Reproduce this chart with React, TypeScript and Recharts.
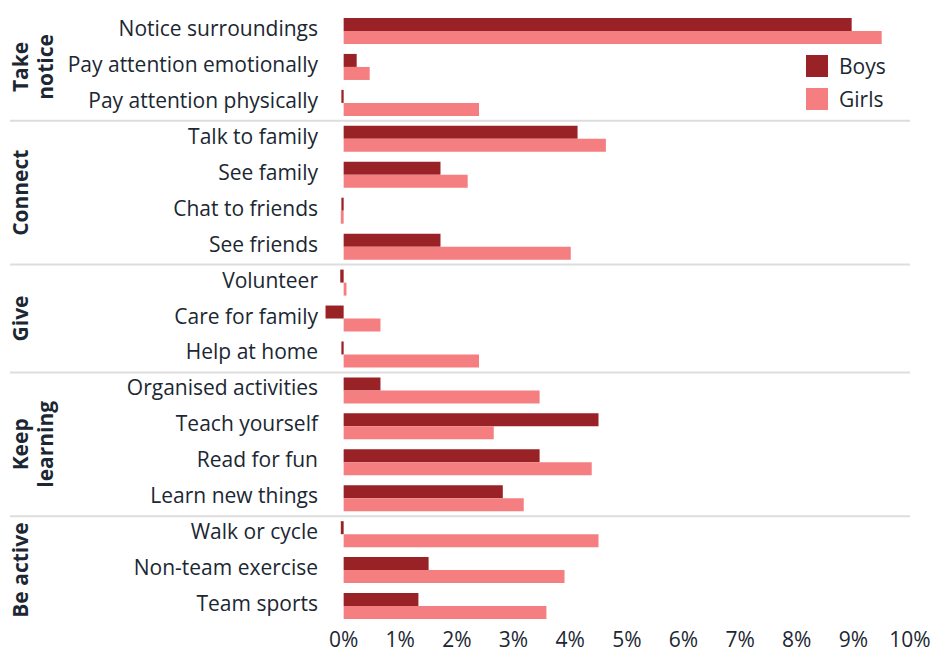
import React from "react";
import { BarChart, Bar, XAxis, YAxis, Legend } from "recharts";

const categories = [
  "Notice surroundings",
  "Pay attention emotionally",
  "Pay attention physically",
  "Talk to family",
  "See family",
  "Chat to friends",
  "See friends",
  "Volunteer",
  "Care for family",
  "Help at home",
  "Organised activities",
  "Teach yourself",
  "Read for fun",
  "Learn new things",
  "Walk or cycle",
  "Non-team exercise",
  "Team sports",
];

const boys = [8.97, 0.23, -0.04, 4.13, 1.71, -0.04, 1.71, -0.06, -0.32, -0.04, 0.65, 4.5, 3.46, 2.81, -0.05, 1.5, 1.32];
const girls = [9.5, 0.46, 2.39, 4.63, 2.19, -0.05, 4.01, 0.05, 0.65, 2.39, 3.46, 2.65, 4.38, 3.18, 4.5, 3.9, 3.58];

// group titles (one entry per line) and how many categories each covers
const groupLabels = [["Take", "notice"], ["Connect"], ["Give"], ["Keep", "learning"], ["Be active"]];
const groupSizes = [3, 4, 3, 4, 3];

const xTicks = [0, 1, 2, 3, 4, 5, 6, 7, 8, 9, 10];

const BOYS = "#982225";
const GIRLS = "#f47e80";
const TEXT = "#1b2732";
const FONT = "'Open Sans', sans-serif";

const data = categories.map((name, i) => ({ name, boys: boys[i], girls: girls[i] }));

// index of the first row of each group
const groupStarts = groupSizes.map((_, g) => groupSizes.slice(0, g).reduce((a, b) => a + b, 0));

function CategoryTick(props: any) {
  const { x, y, payload, index } = props;
  const half = payload?.offset ?? 17.94;
  const g = groupStarts.indexOf(index);
  const top = y - half;
  return (
    <g>
      <text x={x - 3} y={y} dy={5} textAnchor="end" fill={TEXT} fontSize={21} fontFamily={FONT}>
        {payload.value}
      </text>
      {g > 0 && <line x1={10} x2={910} y1={top} y2={top} stroke="#dddddd" strokeWidth={2} />}
      {g >= 0 && (
        <text
          transform={`translate(28, ${top + groupSizes[g] * half}) rotate(-90)`}
          textAnchor="middle"
          fill={TEXT}
          fontSize={21}
          fontWeight={700}
          fontFamily={FONT}
        >
          {groupLabels[g].map((line, k) => (
            <tspan key={k} x={0} dy={k === 0 ? 0 : 25}>
              {line}
            </tspan>
          ))}
        </text>
      )}
    </g>
  );
}

function LegendContent(props: any) {
  const items = props.payload || [];
  return (
    <div style={{ display: "flex", flexDirection: "column", gap: 11, fontFamily: FONT, fontSize: 21, color: TEXT }}>
      {items.map((e: any) => (
        <div key={e.value} style={{ display: "flex", alignItems: "center", height: 22 }}>
          <span style={{ width: 22, height: 22, background: e.color, marginRight: 11, display: "inline-block" }} />
          <span>{e.value}</span>
        </div>
      ))}
    </div>
  );
}

export default function App() {
  return (
    <div style={{ position: "absolute", left: 0, top: 0, background: "#fff" }}>
      <BarChart
        width={934}
        height={653}
        data={data}
        layout="vertical"
        margin={{ top: 13, right: 24, bottom: 0, left: 0 }}
        barGap={0}
      >
        <XAxis
          type="number"
          domain={[-0.4, 10]}
          ticks={xTicks}
          tickFormatter={(v) => `${v}%`}
          axisLine={false}
          tickLine={false}
          tickSize={0}
          tickMargin={8}
          height={29}
          tick={{ fill: TEXT, fontSize: 21, fontFamily: FONT }}
          allowDataOverflow
        />
        <YAxis
          type="category"
          dataKey="name"
          width={321}
          axisLine={false}
          tickLine={false}
          tickSize={0}
          tickMargin={0}
          interval={0}
          tick={<CategoryTick />}
        />
        <Legend
          layout="horizontal"
          verticalAlign="middle"
          align="center"
          content={<LegendContent />}
          wrapperStyle={{ left: 806, top: 55, width: 120 }}
        />
        <Bar dataKey="boys" name="Boys" fill={BOYS} barSize={13} isAnimationActive={false} />
        <Bar dataKey="girls" name="Girls" fill={GIRLS} barSize={13} isAnimationActive={false} />
      </BarChart>
    </div>
  );
}
